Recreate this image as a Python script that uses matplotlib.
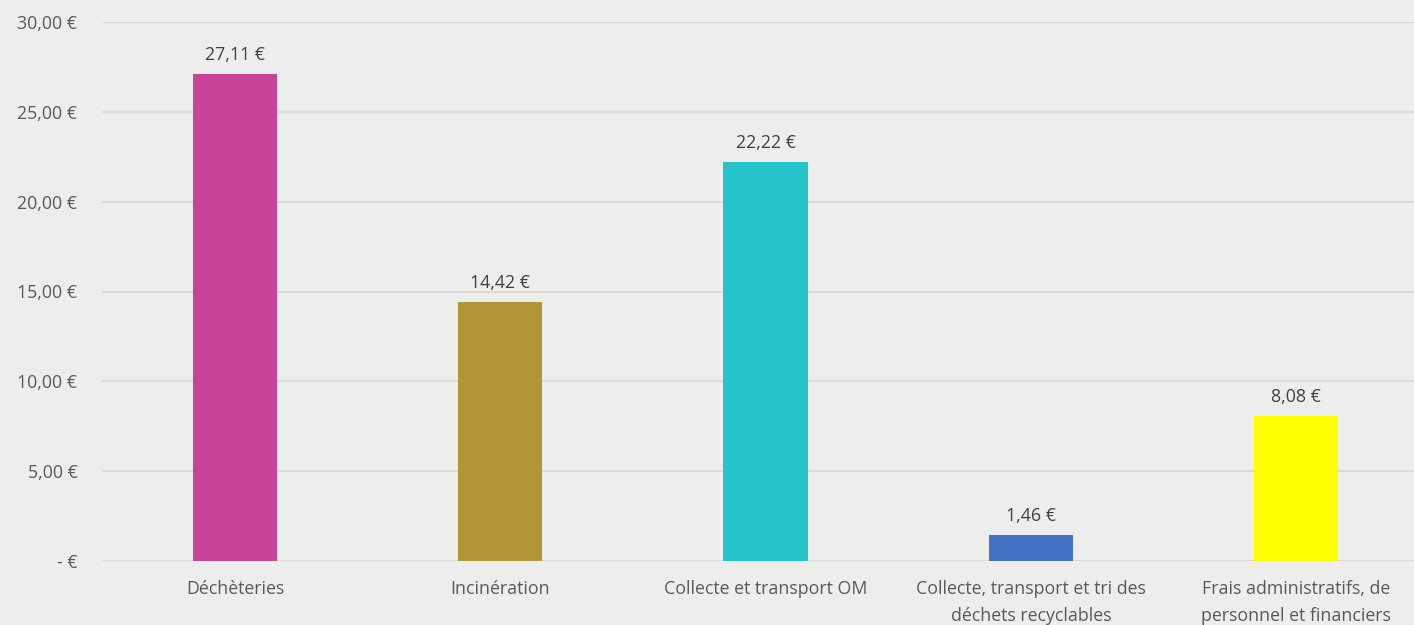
import matplotlib.pyplot as plt
from matplotlib.ticker import FuncFormatter

categories = ["Déchèteries", "Incinération", "Collecte et transport OM",
              "Collecte, transport et tri des\ndéchets recyclables",
              "Frais administratifs, de\npersonnel et financiers"]
values = [27.11, 14.42, 22.22, 1.46, 8.08]
colors = ["#C8449A", "#B39536", "#26C3CB", "#4472C4", "#FFFF00"]
yticks = [0, 5, 10, 15, 20, 25, 30]

plt.rcParams['font.family'] = ['Open Sans', 'DejaVu Sans']

def euro(v, pos=None):
    if v == 0:
        return "- €"
    return f"{v:,.2f}".replace(",", " ").replace(".", ",") + " €"

fig = plt.figure(figsize=(14.14, 6.25), dpi=100)
fig.patch.set_facecolor("#EDEDEC")
ax = fig.add_axes([0.0724, 0.1024, 0.938, 0.8624])
ax.set_facecolor("none")

x = list(range(len(categories)))
bars = ax.bar(x, values, width=0.317, color=colors, zorder=3)
for xi, v in zip(x, values):
    ax.annotate(euro(v), (xi, v), xytext=(0, 7), textcoords="offset points",
                ha="center", va="bottom", fontsize=12.8, color="#404040")

ax.set_xlim(-0.5, len(categories) - 0.5)
ax.set_ylim(0, 30)
ax.set_yticks(yticks)
ax.yaxis.set_major_formatter(FuncFormatter(euro))
ax.grid(axis="y", color="#D8D8D8", linewidth=1.3, zorder=0)
ax.set_xticks(x)
ax.set_xticklabels(categories, fontsize=12.8, color="#595959", linespacing=1.6)
ax.tick_params(axis="y", labelsize=12.8, labelcolor="#595959", length=0, pad=18)
ax.tick_params(axis="x", length=0, pad=14)
for s in ax.spines.values():
    s.set_visible(False)

fig.savefig("out.png", dpi=100, facecolor=fig.get_facecolor())
